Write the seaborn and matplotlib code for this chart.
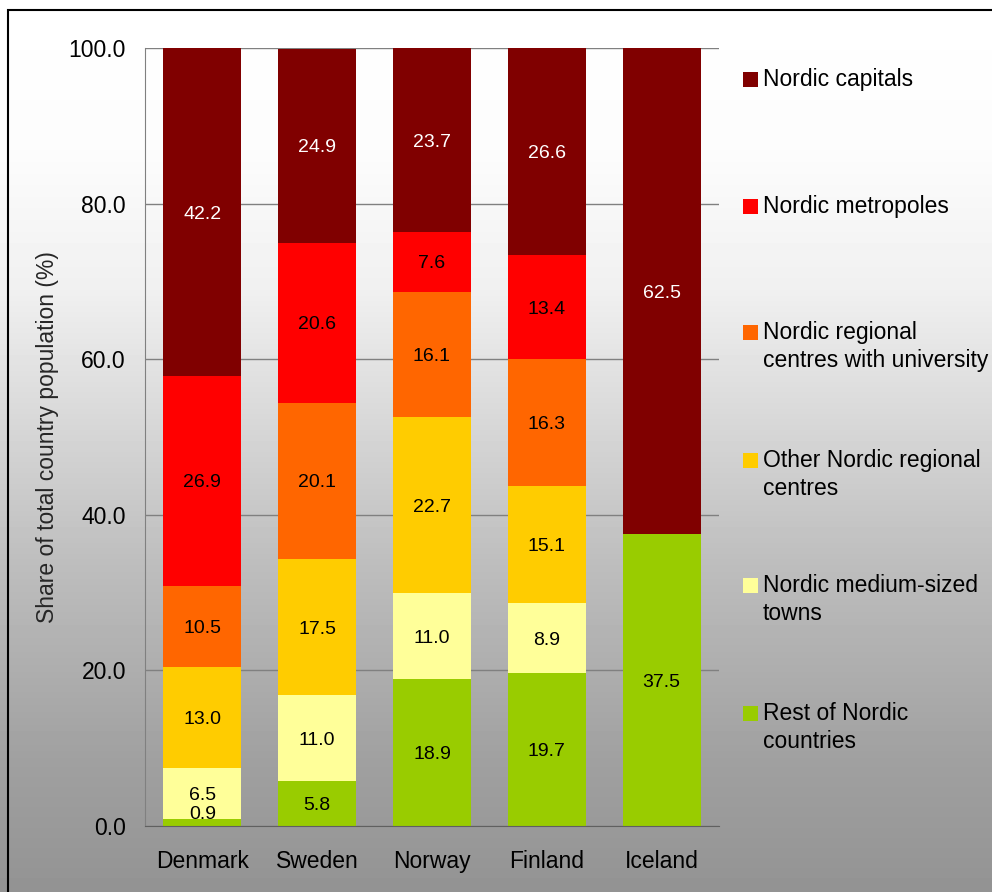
import numpy as np
import pandas as pd
import matplotlib
matplotlib.use("Agg")
import matplotlib.pyplot as plt
import seaborn as sns
from matplotlib.patches import Rectangle

# ---------------- data ----------------
countries = ["Denmark", "Sweden", "Norway", "Finland", "Iceland"]
# bottom -> top stacking order
rest = [0.9, 5.8, 18.9, 19.7, 37.5]
medium_towns = [6.5, 11.0, 11.0, 8.9, 0.0]
other_regional = [13.0, 17.5, 22.7, 15.1, 0.0]
regional_univ = [10.5, 20.1, 16.1, 16.3, 0.0]
metropoles = [26.9, 20.6, 7.6, 13.4, 0.0]
capitals = [42.2, 24.9, 23.7, 26.6, 62.5]

series = [rest, medium_towns, other_regional, regional_univ, metropoles, capitals]
series_names = ["Rest of Nordic\ncountries", "Nordic medium-sized\ntowns",
                "Other Nordic regional\ncentres", "Nordic regional\ncentres with university",
                "Nordic metropoles", "Nordic capitals"]
colors = ["#99CC00", "#FFFF99", "#FFCC00", "#FF6600", "#FF0000", "#800000"]
label_colors = ["black", "black", "black", "black", "black", "white"]
yticks = [0, 20, 40, 60, 80, 100]
ylabel = "Share of total country population (%)"

# ---------------- style ----------------
sns.set_style("white")
plt.rcParams["font.family"] = ["Liberation Sans", "DejaVu Sans"]

W, H = 992, 892
fig = plt.figure(figsize=(W / 100, H / 100), dpi=100)

# gradient background
bg = fig.add_axes([0, 0, 1, 1], zorder=-10)
ypix = np.arange(H)
anchors_y = [0, 150, 290, 560, 760, 892]
anchors_v = [255, 252, 240, 190, 160, 147]
vals = np.interp(ypix, anchors_y, anchors_v) / 255.0
grad = np.repeat(vals[:, None], 4, axis=1)
bg.imshow(grad, cmap="gray", vmin=0, vmax=1, aspect="auto", extent=[0, 1, 0, 1])
bg.set_axis_off()

# figure border
fig.add_artist(Rectangle((8 / W, -0.1), 1.2, 1 - 10 / H + 0.1, transform=fig.transFigure,
                         fill=False, edgecolor="black", linewidth=1.5))

ax = fig.add_axes([145 / W, 66 / H, 574 / W, 778 / H])
ax.set_facecolor("none")

cum = np.cumsum(np.array(series), axis=0)
# draw from top of stack down so lower segments overlay
for i in range(len(series) - 1, -1, -1):
    df = pd.DataFrame({"country": countries, "top": cum[i]})
    sns.barplot(data=df, x="country", y="top", color=colors[i], saturation=1,
                width=0.68, ax=ax, zorder=2, linewidth=0)

# data labels
for i, s in enumerate(series):
    for j, v in enumerate(s):
        if v <= 0:
            continue
        yc = max(cum[i][j] - v / 2, 1.7)
        ax.text(j, yc, f"{v:.1f}", ha="center", va="center_baseline",
                fontsize=14, color=label_colors[i], zorder=5)

ax.set_xlim(-0.5, 4.5)
ax.set_ylim(0, 100)
ax.set_yticks(yticks)
ax.set_yticklabels([f"{t:.1f}" for t in yticks])
ax.tick_params(axis="both", length=0, labelsize=16.5, colors="black")
ax.tick_params(axis="y", pad=13.7)
ax.tick_params(axis="x", pad=17)
ax.set_xlabel("")
ax.set_ylabel(ylabel, fontsize=16.5, labelpad=7)
ax.yaxis.grid(True, color="#808080", linewidth=1)
ax.set_axisbelow(True)
for sp in ["top", "right"]:
    ax.spines[sp].set_visible(False)
ax.spines["left"].set_color("#808080")
ax.spines["bottom"].set_color("#606060")
ax.spines["left"].set_zorder(6)
ax.spines["bottom"].set_zorder(6)

# legend (top -> bottom)
first_line_y = [77, 204, 330, 458, 583, 711]
for k, idx in enumerate(range(len(series) - 1, -1, -1)):
    yc = first_line_y[k]
    fig.add_artist(Rectangle((743 / W, 1 - (yc + 10) / H), 15 / W, 15 / H,
                             transform=fig.transFigure, facecolor=colors[idx],
                             edgecolor="none"))
    for li, line in enumerate(series_names[idx].split("\n")):
        fig.text(763 / W, 1 - (yc + li * 28) / H, line, fontsize=16.5,
                 ha="left", va="center_baseline", color="black")

fig.savefig("out.png", dpi=100)
